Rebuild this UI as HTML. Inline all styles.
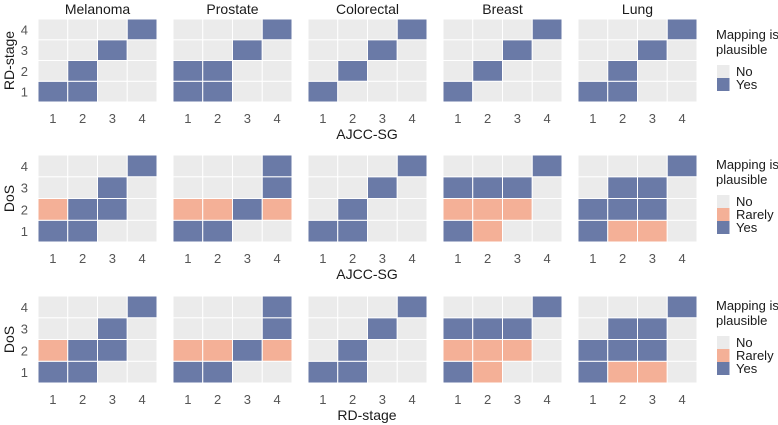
<!DOCTYPE html>
<html><head><meta charset="utf-8">
<style>
body{margin:0;background:#fff;}
svg{display:block;font-family:"Liberation Sans",Arial,sans-serif;}
</style></head>
<body>
<svg id="chart" width="778" height="425" viewBox="0 0 778 425"></svg>
<script>
const cancers = ["Melanoma","Prostate","Colorectal","Breast","Lung"];
const tickLabels = ["1","2","3","4"];
const rowYTitles = ["RD-stage","DoS","DoS"];
const rowXTitles = ["AJCC-SG","AJCC-SG","RD-stage"];
// cells: [x, y, level] level: 1=Rarely, 2=Yes (others = No)
const row1Cells = [
 [[1,1,2],[2,1,2],[2,2,2],[3,3,2],[4,4,2]],
 [[1,1,2],[2,1,2],[1,2,2],[2,2,2],[3,3,2],[4,4,2]],
 [[1,1,2],[2,2,2],[3,3,2],[4,4,2]],
 [[1,1,2],[2,2,2],[3,3,2],[4,4,2]],
 [[1,1,2],[2,1,2],[2,2,2],[3,3,2],[4,4,2]]
];
const row2Cells = [
 [[1,1,2],[2,1,2],[1,2,1],[2,2,2],[3,2,2],[3,3,2],[4,4,2]],
 [[1,1,2],[2,1,2],[1,2,1],[2,2,1],[3,2,2],[4,2,1],[4,3,2],[4,4,2]],
 [[1,1,2],[2,1,2],[2,2,2],[3,3,2],[4,4,2]],
 [[1,1,2],[2,1,1],[1,2,1],[2,2,1],[3,2,1],[1,3,2],[2,3,2],[3,3,2],[4,4,2]],
 [[1,1,2],[2,1,1],[3,1,1],[1,2,2],[2,2,2],[3,2,2],[2,3,2],[3,3,2],[4,4,2]]
];
const row3Cells = row2Cells;
const legendLevels = [["No","Yes"],["No","Rarely","Yes"],["No","Rarely","Yes"]];

const NS="http://www.w3.org/2000/svg";
const svg=document.getElementById('chart');
const colors={"No":"#ebebeb","Rarely":"#f4b097","Yes":"#6a7aa7"};
const levelName=["No","Rarely","Yes"];
function mk(tag,attrs,parent){const e=document.createElementNS(NS,tag);for(const k in attrs)e.setAttribute(k,attrs[k]);(parent||svg).appendChild(e);return e;}

const rows=[{top:19,bot:102,cells:row1Cells},{top:155,bot:242,cells:row2Cells},{top:296,bot:383,cells:row3Cells}];
const panelX0=38, panelStep=135, panelW=119;
function xScale(p,v){return panelX0+p*panelStep+(v-1)*panelW/4;}

cancers.forEach((c,p)=>{
  const t=mk('text',{x:panelX0+p*panelStep+panelW/2,y:14,'text-anchor':'middle','font-size':14,fill:'#1a1a1a'});
  t.textContent=c;
  
  
});

rows.forEach((r,ri)=>{
  const ch=(r.bot-r.top)/4;
  const yScale=v=>r.bot-v*ch;
  cancers.forEach((c,p)=>{
    const g=mk('g',{});
    
    
    const lv={};
    r.cells[p].forEach(d=>{lv[d[0]+','+d[1]]=d[2];});
    for(let x=1;x<=4;x++)for(let y=1;y<=4;y++){
      const l=lv[x+','+y]||0;
      const rc=mk('rect',{x:xScale(p,x),y:yScale(y),width:panelW/4,height:ch,fill:colors[levelName[l]],stroke:'#fff','stroke-width':1},g);
      
      
    }
    tickLabels.forEach((tl,i)=>{
      const t=mk('text',{x:xScale(p,i+1)+panelW/8,y:r.bot+21,'text-anchor':'middle','font-size':13,fill:'#555'},g);
      t.textContent=tl;
      
      
    });
  });
  tickLabels.forEach((tl,i)=>{
    const t=mk('text',{x:28,y:yScale(i+1)+ch/2+5,'text-anchor':'end','font-size':13,fill:'#555'});
    t.textContent=tl;
    
    
  });
  const cy=(r.top+r.bot)/2;
  const yt=mk('text',{x:0,y:0,transform:'translate(14,'+cy+') rotate(-90)','text-anchor':'middle','font-size':14,fill:'#1a1a1a'});
  yt.textContent=rowYTitles[ri];
  
  
  const xt=mk('text',{x:367,y:r.bot+37,'text-anchor':'middle','font-size':14,fill:'#1a1a1a'});
  xt.textContent=rowXTitles[ri];
  
  

  const levels=legendLevels[ri];
  const keyTop = ri===0 ? 65 : r.top+40;
  const lg=mk('g',{});
  
  
  const t1=mk('text',{x:716,y:keyTop-26,'font-size':13,fill:'#1a1a1a'},lg);
  t1.textContent='Mapping is';
  const t2=mk('text',{x:716,y:keyTop-11,'font-size':13,fill:'#1a1a1a'},lg);
  t2.textContent='plausible';
  levels.forEach((L,i)=>{
    const k=mk('rect',{x:717,y:keyTop+i*13,width:12.5,height:13,fill:colors[L]},lg);
    
    
    const lt=mk('text',{x:736,y:keyTop+i*13+11,'font-size':13,fill:'#1a1a1a'},lg);
    lt.textContent=L;
    
    
  });
});
</script>
</body></html>
